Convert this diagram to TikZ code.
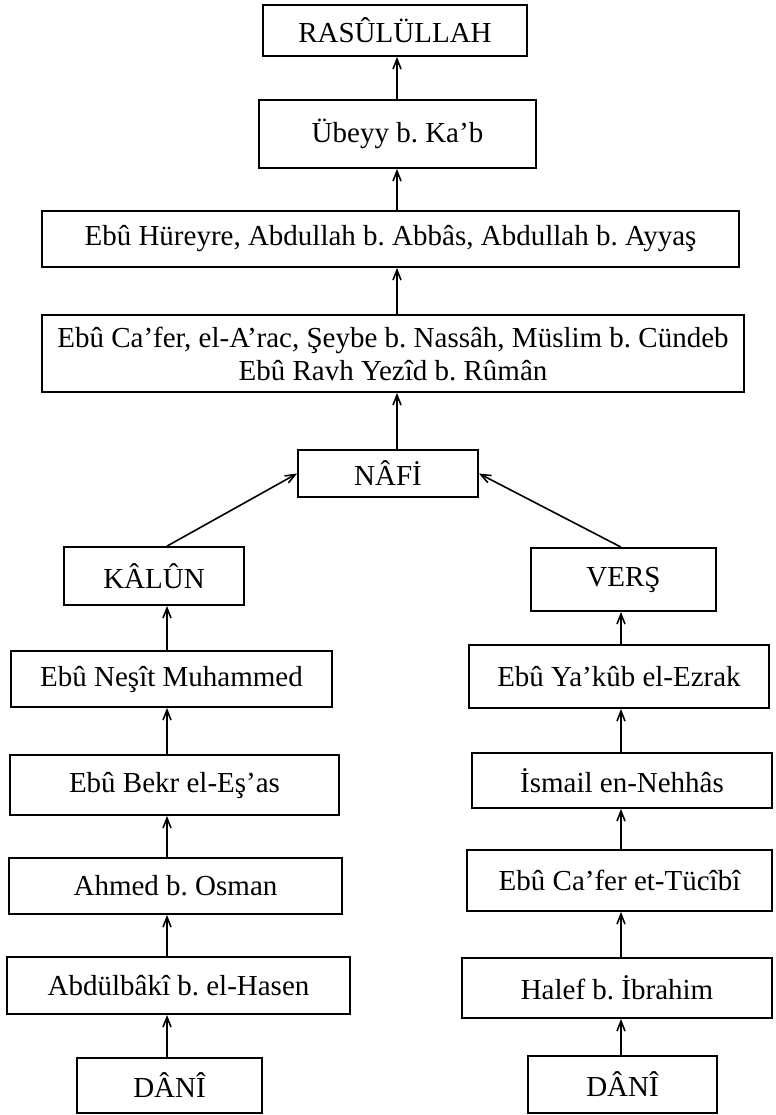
\documentclass[tikz,border=0pt]{standalone}
\usepackage{fontspec}
\setmainfont{Liberation Serif}
\usetikzlibrary{arrows.meta}
\frenchspacing
\begin{document}
\begin{tikzpicture}[x=0.5pt,y=-0.5pt,
  box/.style={draw, line width=0.9pt, inner sep=0pt, align=center,
    font=\fontsize{14.5}{16.5}\selectfont\frenchspacing},
  arr/.style={line width=0.8pt, -{Straight Barb[length=5pt,width=4pt]}}]
\useasboundingbox (0,0) rectangle (776,1115);
% column x positions of arrows
\coordinate (tx) at (397,0);
\coordinate (cl) at (167,0);
\coordinate (cr) at (621,0);
% central stack
\node[box, minimum width=132pt, minimum height=25.5pt] (rasul) at (395,30.5) {RASÛLÜLLAH};
\node[box, minimum width=138.5pt, minimum height=34pt] (ubeyy) at (397.5,134) {Übeyy b. Ka’b};
\node[box, minimum width=348.5pt, minimum height=28pt] (hureyre) at (390.5,239) {Ebû Hüreyre, Abdullah b. Abbâs, Abdullah b. Ayyaş};
\node[box, minimum width=351pt, minimum height=38.5pt] (cafer) at (393,353.5) {Ebû Ca’fer, el-A’rac, Şeybe b. Nassâh, Müslim b. Cündeb\\Ebû Ravh Yezîd b. Rûmân};
\node[box, minimum width=90pt, minimum height=23.5pt] (nafi) at (388,473.5) {NÂFİ};
% left column
\node[box, minimum width=90pt, minimum height=29pt] (kalun) at (154,576) {KÂLÛN};
\node[box, minimum width=160.5pt, minimum height=28pt] (nesit) at (171.5,679) {Ebû Neşît Muhammed};
\node[box, minimum width=164.5pt, minimum height=30pt] (bekr) at (174.5,785) {Ebû Bekr el-Eş’as};
\node[box, minimum width=166.5pt, minimum height=28pt] (ahmed) at (175.5,886) {Ahmed b. Osman};
\node[box, minimum width=171.5pt, minimum height=28.5pt] (baki) at (178.5,985.5) {Abdülbâkî b. el-Hasen};
\node[box, minimum width=92.5pt, minimum height=27.5pt] (daniL) at (169.5,1085.5) {DÂNÎ};
% right column
\node[box, minimum width=92.5pt, minimum height=31.5pt] (vers) at (623.5,579.5) {VERŞ};
\node[box, minimum width=150pt, minimum height=31.5pt] (ezrak) at (619,676.5) {Ebû Ya’kûb el-Ezrak};
\node[box, minimum width=150pt, minimum height=27.5pt] (nehhas) at (622,780.5) {İsmail en-Nehhâs};
\node[box, minimum width=152.5pt, minimum height=30.5pt] (tucibi) at (619.5,880.5) {Ebû Ca’fer et-Tücîbî};
\node[box, minimum width=155pt, minimum height=30pt] (halef) at (617,988) {Halef b. İbrahim};
\node[box, minimum width=94.5pt, minimum height=28.5pt] (daniR) at (622.5,1084.5) {DÂNÎ};
% central arrows
\draw[arr] (ubeyy.north -| tx) -- (rasul.south -| tx);
\draw[arr] (hureyre.north -| tx) -- (ubeyy.south -| tx);
\draw[arr] (cafer.north -| tx) -- (hureyre.south -| tx);
\draw[arr] (nafi.north -| tx) -- (cafer.south -| tx);
% diagonals
\draw[arr] (kalun.north -| cl) -- (nafi.west);
\draw[arr] (vers.north -| cr) -- (nafi.east);
% left column arrows
\draw[arr] (nesit.north -| cl) -- (kalun.south -| cl);
\draw[arr] (bekr.north -| cl) -- (nesit.south -| cl);
\draw[arr] (ahmed.north -| cl) -- (bekr.south -| cl);
\draw[arr] (baki.north -| cl) -- (ahmed.south -| cl);
\draw[arr] (daniL.north -| cl) -- (baki.south -| cl);
% right column arrows
\draw[arr] (ezrak.north -| cr) -- (vers.south -| cr);
\draw[arr] (nehhas.north -| cr) -- (ezrak.south -| cr);
\draw[arr] (tucibi.north -| cr) -- (nehhas.south -| cr);
\draw[arr] (halef.north -| cr) -- (tucibi.south -| cr);
\draw[arr] (daniR.north -| cr) -- (halef.south -| cr);
\end{tikzpicture}
\end{document}
